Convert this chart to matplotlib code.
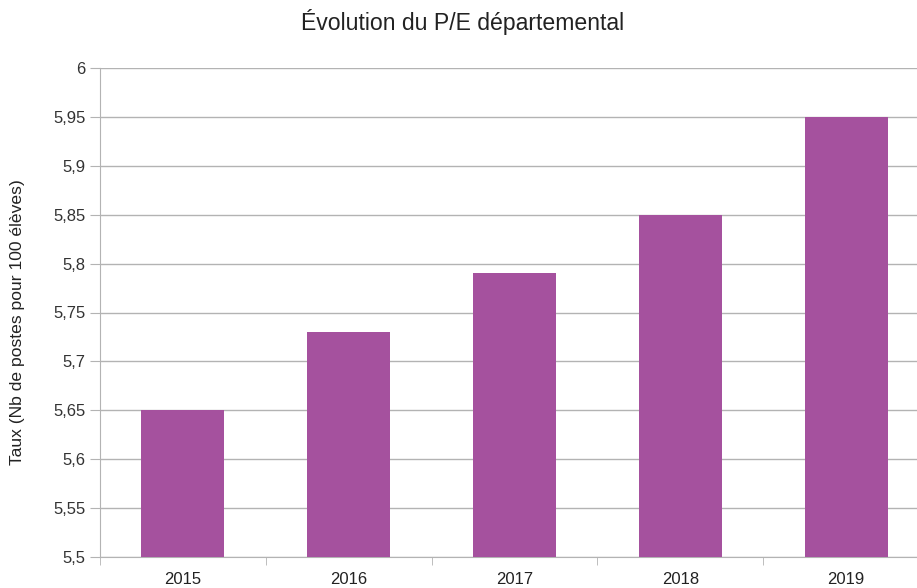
import matplotlib.pyplot as plt
import numpy as np
from matplotlib.ticker import FuncFormatter, MultipleLocator

years = ["2015", "2016", "2017", "2018", "2019"]
taux = [5.65, 5.73, 5.79, 5.85, 5.95]

plt.rcParams['font.family'] = ['Liberation Sans', 'DejaVu Sans']

fig = plt.figure(figsize=(9.17, 5.88), dpi=100)
# right edge of the plot runs past the figure, as in the original
ax = fig.add_axes([100 / 917, 31 / 588, 829 / 917, 489 / 588])

x = np.arange(len(years))
ax.bar(x, taux, width=0.5, color="#a5519e", zorder=3)

ax.set_xlim(-0.5, len(years) - 0.5)
ax.set_ylim(5.5, 6.0)
ax.yaxis.set_major_locator(MultipleLocator(0.05))
ax.yaxis.set_major_formatter(FuncFormatter(lambda v, p: ("%.2f" % v).rstrip("0").rstrip(".").replace(".", ",")))
ax.grid(axis="y", color="#b3b3b3", linewidth=1, zorder=0)

ax.set_xticks(x)
ax.set_xticklabels(years)
ax.set_xticks(np.arange(-0.5, len(years)), minor=True)
ax.tick_params(axis="x", which="major", length=0, labelsize=12, pad=11, colors="#222222")
ax.tick_params(axis="x", which="minor", length=6, color="#b3b3b3")
ax.tick_params(axis="y", length=7, color="#b3b3b3", labelsize=12, labelcolor="#333333")

for side in ["top", "right"]:
    ax.spines[side].set_visible(False)
for side in ["left", "bottom"]:
    ax.spines[side].set_color("#b3b3b3")

fig.text(18 / 917, 1 - 322 / 588, "Taux (Nb de postes pour 100 élèves)", rotation=90,
         ha="center", va="center", fontsize=12.6, color="#222222")
fig.text(463 / 917, 1 - 22 / 588, "Évolution du P/E départemental", ha="center", va="center",
         fontsize=16.6, color="#222222")

fig.savefig("out.png", dpi=100)
